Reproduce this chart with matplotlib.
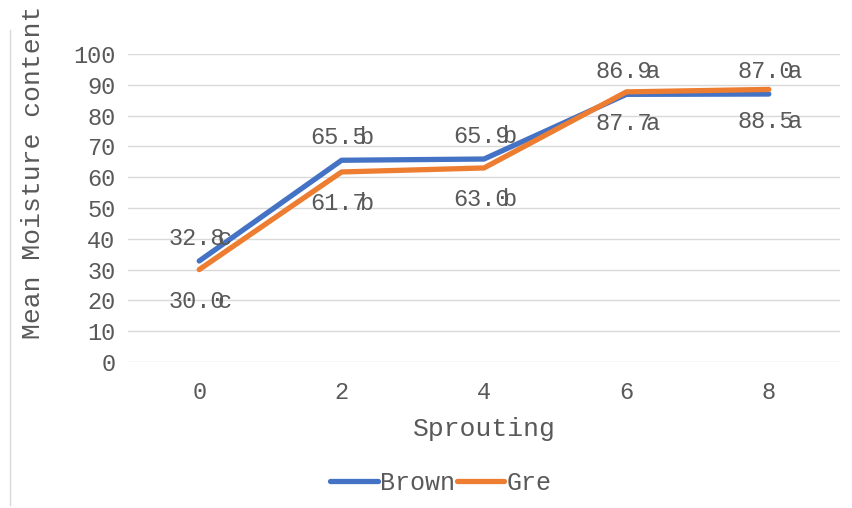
import matplotlib
matplotlib.use("Agg")
import matplotlib.pyplot as plt
from matplotlib.lines import Line2D

days = ["0", "2", "4", "6", "8"]
brown = [32.8, 65.5, 65.9, 86.9, 87.0]
green = [30.0, 61.7, 63.0, 87.7, 88.5]
brown_letters = ["c", "b", "b", "a", "a"]
green_letters = ["c", "b", "b", "a", "a"]

BLUE = "#4472C4"
ORANGE = "#ED7D31"
TXT = "#595959"

plt.rcParams["font.family"] = ["Liberation Mono", "DejaVu Sans Mono"]

fig = plt.figure(figsize=(8.52, 5.08), dpi=100)
ax = fig.add_axes([128 / 852, 1 - 362 / 508, 712 / 852, 308 / 508])

xs = list(range(len(days)))
ax.plot(xs, brown, color=BLUE, lw=3.8, solid_capstyle="round", label="Brown", zorder=3)
ax.plot(xs, green, color=ORANGE, lw=3.8, solid_capstyle="round", label="Gre", zorder=3)

ax.set_xlim(-0.5, len(days) - 0.5)
ax.set_ylim(0, 100)
ax.set_yticks(range(0, 101, 10))
ax.set_xticks(xs)
ax.set_xticklabels(days)
ax.grid(axis="y", color="#d9d9d9", lw=1)
ax.set_axisbelow(True)
for s in ax.spines.values():
    s.set_visible(False)
ax.tick_params(length=0, labelsize=17, labelcolor=TXT, pad=9)
ax.tick_params(axis="x", pad=14)

# value labels; the significance letter sits over the last digit
def annotate(vals, letters, dy):
    for x, v, l in zip(xs, vals, letters):
        ax.annotate(f"{v:.1f}", (x, v), xytext=(-2, dy), textcoords="offset points",
                    ha="center", va="center", fontsize=17, color=TXT)
        ax.annotate(l, (x, v), xytext=(18.5, dy), textcoords="offset points",
                    ha="center", va="center", fontsize=17, color=TXT)

annotate(brown, brown_letters, 16.5)
annotate(green, green_letters, -23)

ax.set_xlabel("Sprouting", fontsize=19, color=TXT, labelpad=9)
fig.text(33 / 852, 1 - 172 / 508, "Mean Moisture content", rotation=90,
         ha="center", va="center", fontsize=19, color=TXT)

leg = fig.legend(handles=[Line2D([], [], color=BLUE, lw=3.8, solid_capstyle="round"),
                          Line2D([], [], color=ORANGE, lw=3.8, solid_capstyle="round")],
                 labels=["Brown", "Gre"], loc="center", bbox_to_anchor=(441 / 852, 1 - 483 / 508),
                 ncol=2, frameon=False, fontsize=18, handlelength=1.9, handletextpad=0.1,
                 columnspacing=0.05)
for t in leg.get_texts():
    t.set_color(TXT)

fig.add_artist(Line2D([10 / 852, 10 / 852], [1 - 30 / 508, 1 - 505 / 508], color="#d9d9d9", lw=1))

fig.savefig("out.png", dpi=100)
